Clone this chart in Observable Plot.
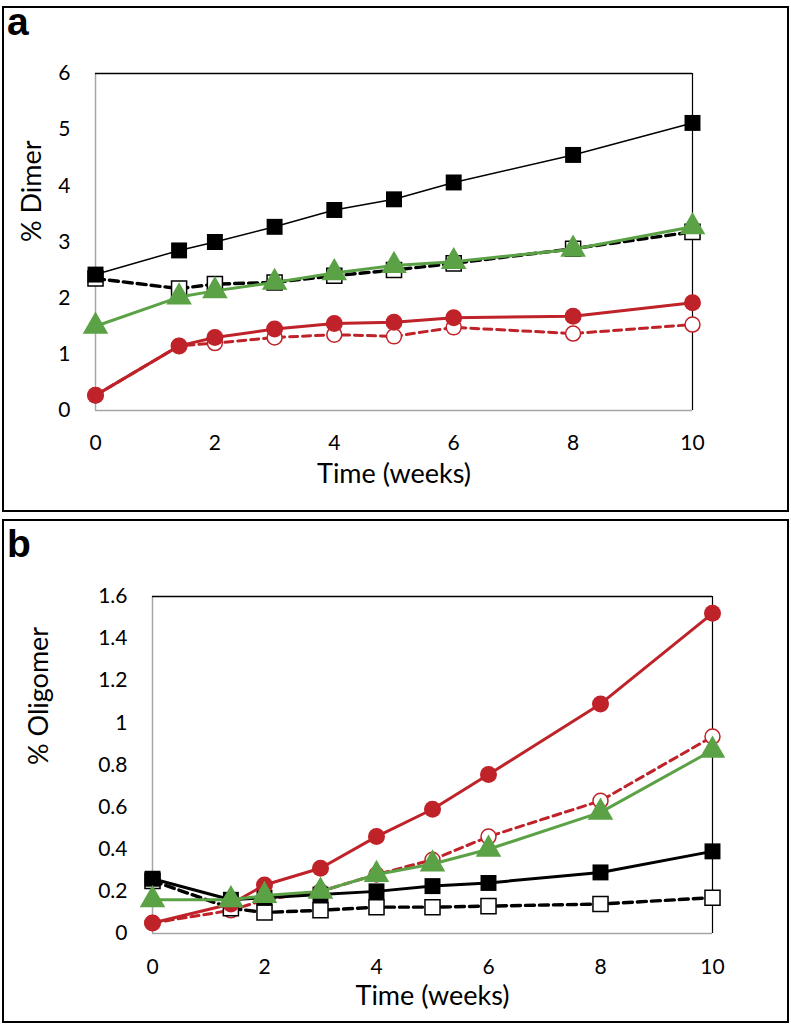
<!DOCTYPE html>
<html><head><meta charset="utf-8">
<script src="https://cdn.jsdelivr.net/npm/d3@7"></script>
<script src="https://cdn.jsdelivr.net/npm/@observablehq/plot@0.6"></script>
<style>
body{margin:0;background:#fff;width:791px;height:1027px;position:relative;overflow:hidden}
.panel{position:absolute;left:2px;width:783px;border:2px solid #000;background:#fff}
#pa{top:6px;height:502px}
#pb{top:519px;height:500px}
.tag{position:absolute;left:3px;font:bold 39px "Liberation Sans",Arial,sans-serif;line-height:39px}
.panel svg{position:absolute;left:0;top:0;overflow:visible}
</style></head><body>
<div class="panel" id="pa"><div class="tag" style="top:-6px">a</div></div>
<div class="panel" id="pb"><div class="tag" style="top:3px">b</div></div>
<script>
// ---- data ----
const weeks = [0, 1.4, 2, 3, 4, 5, 6, 8, 10];
const xTicks = [0, 2, 4, 6, 8, 10];
const xTitle = "Time (weeks)";

// panel a: % Dimer
const dimerTitle = "% Dimer";
const dimerTicks = [0, 1, 2, 3, 4, 5, 6];
const dimerSquareFilled = [2.42, 2.85, 3.00, 3.27, 3.57, 3.76, 4.06, 4.55, 5.12];
const dimerSquareOpen   = [2.35, 2.17, 2.25, 2.28, 2.40, 2.50, 2.62, 2.88, 3.18];
const dimerTriangle     = [1.50, 2.02, 2.13, 2.28, 2.45, 2.58, 2.65, 2.87, 3.27];
const dimerCircleFilled = [0.27, 1.15, 1.30, 1.45, 1.55, 1.57, 1.65, 1.68, 1.92];
const dimerCircleOpen   = [0.27, 1.15, 1.20, 1.30, 1.35, 1.32, 1.48, 1.37, 1.53];

// panel b: % Oligomer
const oligoTitle = "% Oligomer";
const oligoTicks = [0, 0.2, 0.4, 0.6, 0.8, 1, 1.2, 1.4, 1.6];
const oligoSquareFilled = [0.26, 0.16, 0.17, 0.185, 0.20, 0.225, 0.24, 0.29, 0.39];
const oligoSquareOpen   = [0.25, 0.12, 0.10, 0.11, 0.125, 0.125, 0.13, 0.14, 0.17];
const oligoTriangle     = [0.16, 0.16, 0.18, 0.20, 0.28, 0.33, 0.40, 0.575, 0.87];
const oligoCircleFilled = [0.05, 0.14, 0.23, 0.31, 0.46, 0.59, 0.755, 1.09, 1.52];
const oligoCircleOpen   = [0.05, 0.11, 0.16, 0.20, 0.28, 0.35, 0.46, 0.63, 0.935];

// ---- styles ----
const RED = "#bf2228", GREEN = "#5ba246", BLACK = "#000";
const fmt = d => String(Math.round(d * 10) / 10);

function series(values, st) {
  const data = weeks.map((w, i) => ({x: w, y: values[i]}));
  return [
    Plot.line(data, {x: "x", y: "y", stroke: st.color, strokeWidth: st.lw, strokeDasharray: st.dash || null, strokeLinejoin: "round"}),
    Plot.dot(data, {x: "x", y: "y", symbol: st.symbol, r: st.r,
      fill: st.open ? "#fff" : st.color, stroke: st.color, strokeWidth: st.open ? 1.5 : 0})
  ];
}

function panel(el, o) {
  const chart = Plot.plot({
    width: 783, height: o.height,
    marginLeft: o.ml, marginRight: o.mr, marginTop: o.mt, marginBottom: o.mb,
    style: {fontFamily: "Lato, sans-serif", fontSize: "21px", color: "#000", background: "transparent", overflow: "visible"},
    x: {domain: [0, 10], ticks: xTicks, tickSize: 0, tickPadding: o.xpad, label: null},
    y: {domain: o.ydomain, ticks: o.yticks, tickSize: 0, tickPadding: 25, label: null, tickFormat: fmt},
    marks: [
      Plot.ruleX([0], {stroke: "#a6a6a6", strokeWidth: 1.5}),
      Plot.ruleY([0], {stroke: "#a6a6a6", strokeWidth: 1.5}),
      Plot.ruleY([o.ydomain[1]], {stroke: "#000", strokeWidth: 1.5}),
      Plot.ruleX([10], {stroke: "#000", strokeWidth: 1.2}),
      ...series(o.circleOpen,   {color: RED, lw: 3, dash: "8,5", symbol: "circle", r: 7.5, open: true}),
      ...series(o.squareOpen,   {color: BLACK, lw: 3.4, dash: "9,5", symbol: "square", r: 8.5, open: true}),
      ...series(o.squareFilled, {color: BLACK, lw: o.sqLw, symbol: "square", r: 9, open: false}),
      ...series(o.circleFilled, {color: RED, lw: 3, symbol: "circle", r: 8.5, open: false}),
      ...series(o.triangle,     {color: GREEN, lw: 3, symbol: "triangle", r: 9.5, open: false}),
      Plot.text([o.ytitle], {text: d => d, frameAnchor: "left", rotate: -90, dx: o.ytdx, fontSize: 27}),
      Plot.text([xTitle], {text: d => d, frameAnchor: "bottom", dy: o.xtdy, fontSize: 27})
    ]
  });
  document.getElementById(el).appendChild(chart);
}

panel("pa", {height: 502, ml: 91, mr: 95, mt: 65, mb: 100, xpad: 25,
  ydomain: [0, 6], yticks: dimerTicks, ytitle: dimerTitle, ytdx: -63, xtdy: 72, sqLw: 1.5,
  squareFilled: dimerSquareFilled, squareOpen: dimerSquareOpen, triangle: dimerTriangle,
  circleFilled: dimerCircleFilled, circleOpen: dimerCircleOpen});

panel("pb", {height: 500, ml: 148, mr: 75, mt: 75, mb: 88, xpad: 26,
  ydomain: [0, 1.6], yticks: oligoTicks, ytitle: oligoTitle, ytdx: -113, xtdy: 71, sqLw: 3,
  squareFilled: oligoSquareFilled, squareOpen: oligoSquareOpen, triangle: oligoTriangle,
  circleFilled: oligoCircleFilled, circleOpen: oligoCircleOpen});
</script>
</body></html>
